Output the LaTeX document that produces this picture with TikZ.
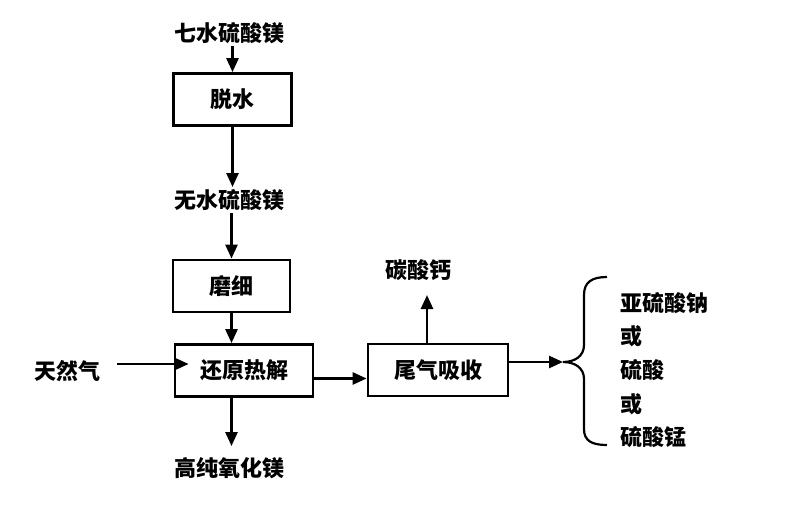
\documentclass[tikz,border=0pt]{standalone}
\usepackage{fontspec}
\setmainfont{Noto Sans CJK SC}
\usetikzlibrary{arrows.meta}
\tikzset{>={Triangle[length=14pt,width=12pt]}, box/.style={draw, line width=2.8pt, minimum height=52pt, inner sep=0pt, font=\fontsize{22}{26}\selectfont\bfseries}, lbl/.style={inner sep=1pt, font=\fontsize{22}{26}\selectfont\bfseries}}

\begin{document}
\begin{tikzpicture}[x=1pt, y=-1pt, line width=2.6pt]
	\useasboundingbox (0,0) rectangle (800,519);
	% main column
	\node[lbl] (qs) at (229,33) {七水硫酸镁};
	\node[box, minimum width=118pt] (ts) at (232.5,99.5) {脱水};
	\node[lbl] (ws) at (229,200) {无水硫酸镁};
	\node[box, minimum width=117pt] (mx) at (231.5,286) {磨细};
	\node[box, minimum width=138pt] (hy) at (244,370.5) {还原热解};
	\node[lbl] (gc) at (229,468) {高纯氧化镁};
	% side branch
	\node[lbl] (tr) at (67,371) {天然气};
	\node[box, minimum width=140pt] (wq) at (438,370) {尾气吸收};
	\node[lbl] (tg) at (418,270) {碳酸钙};
	\coordinate (cu) at (427,295);
	\coordinate (bt) at (563,362);
	% products
	\node[lbl, anchor=west] (p1) at (618,303) {亚硫酸钠};
	\node[lbl, anchor=west] (p2) at (618,336) {或};
	\node[lbl, anchor=west] (p3) at (618,370) {硫酸};
	\node[lbl, anchor=west] (p4) at (618,404) {或};
	\node[lbl, anchor=west] (p5) at (618,437) {硫酸锰};

	\draw[->] (ts.north |- qs.south) -- (ts.north);
	\draw[->] (ts.south) -- (ts.south |- ws.north);
	\draw[->] (mx.north |- ws.south) -- (mx.north);
	\draw[->] (mx.south) -- (mx.south |- hy.north);
	\draw[->, shorten >=9pt] (mx.south |- hy.south) -- (mx.south |- gc.north);
	\draw[->] ([xshift=15pt,yshift=7pt]tr.east) -- ([xshift=15pt,yshift=7pt]tr.east -| hy.west);
	\draw[->] ([yshift=-8pt]hy.east) -- ([yshift=-8pt]hy.east -| wq.west);
	\draw[->] (wq.north -| cu) -- (cu);
	\draw[->] (wq.east |- bt) -- (bt);
	% brace
	\draw[line width=2.2pt] (607,277) .. controls (592,277) and (584,282) .. (584,295) -- (584,345)
		.. controls (584,356) and (575,362) .. (bt)
		.. controls (575,362) and (584,368) .. (584,379) -- (584,429)
		.. controls (584,441) and (592,445) .. (607,445);
\end{tikzpicture}
\end{document}
